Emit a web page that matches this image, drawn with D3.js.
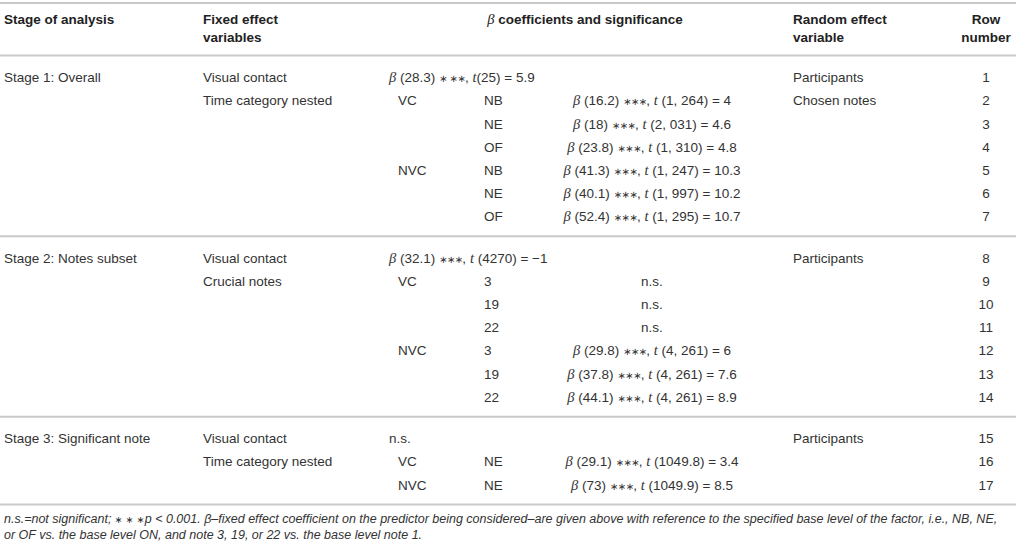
<!DOCTYPE html>
<html><head><meta charset="utf-8">
<script src="https://cdn.jsdelivr.net/npm/d3@7"></script>
<style>
html,body{margin:0;padding:0;background:#fff;}
svg{display:block;}
</style></head>
<body>
<svg id="chart" width="1016" height="545"></svg>
<script>
// ---------- data ----------
const headers = [["Stage of analysis"], ["Fixed effect", "variables"], ["β coefficients and significance"], ["Random effect", "variable"], ["Row", "number"]];
const rowSection = [0,0,0,0,0,0,0, 1,1,1,1,1,1,1, 2,2,2];
const stageLabels = ["Stage 1: Overall","","","","","","", "Stage 2: Notes subset","","","","","","", "Stage 3: Significant note","",""];
const fixedEffects = ["Visual contact","Time category nested","","","","","", "Visual contact","Crucial notes","","","","","", "Visual contact","Time category nested",""];
const contactGroups = ["","VC","","","NVC","","", "","VC","","","NVC","","", "","VC","NVC"];
const levels = ["","NB","NE","OF","NB","NE","OF", "","3","19","22","3","19","22", "","NE","NE"];
const betaValues = ["28.3","16.2","18","23.8","41.3","40.1","52.4", "32.1",null,null,null,"29.8","37.8","44.1", null,"29.1","73"];
const degreesOfFreedom = ["25","1, 264","2, 031","1, 310","1, 247","1, 997","1, 295", "4270",null,null,null,"4, 261","4, 261","4, 261", null,"1049.8","1049.9"];
const tValues = ["5.9","4","4.6","4.8","10.3","10.2","10.7", "−1",null,null,null,"6","7.6","8.9", null,"3.4","8.5"];
const mainEffectRow = [true,false,false,false,false,false,false, true,false,false,false,false,false,false, true,false,false];
const randomEffects = ["Participants","Chosen notes","","","","","", "Participants","","","","","","", "Participants","",""];
const rowNumbers = [1,2,3,4,5,6,7,8,9,10,11,12,13,14,15,16,17];
const footnoteLine1Parts = ["n.s.=not significant; ", "∗ ∗ ∗", "p < 0.001. β–fixed effect coefficient on the predictor being considered–are given above with reference to the specified base level of the factor, i.e., NB, NE,"];
const footnoteLine2 = "or OF vs. the base level ON, and note 3, 19, or 22 vs. the base level note 1.";

// ---------- layout ----------
const svg = d3.select("#chart");
const W = 1016;
const FONT = "'Liberation Sans', Arial, Helvetica, sans-serif";
const SERIF = "'Liberation Serif', 'Times New Roman', serif";
const STARF = "'DejaVu Sans', sans-serif";
const TXT = "#333";
const RULE = "#c9c9c9";
const sectionGap = 0.78;
const slot = (i) => i + rowSection[i] * sectionGap;
const y = d3.scaleLinear().domain([0, 1]).range([77.5, 77.5 + 23.2]);
const colX = { stage: 4, fixed: 203, group: 398, level: 484, coefC: 652, coefL: 389, random: 793, rownum: 986 };
const fs = 13.5;
const dy = 4.7;

// rules
const lastRowOfSection = [6, 13, 16];
const rules = [3, 55.5].concat(lastRowOfSection.map(i => y(slot(i)) + 19.5));
svg.selectAll("line.rule").data(rules).join("line")
  .attr("x1", 0).attr("x2", W).attr("y1", d => d).attr("y2", d => d)
  .attr("stroke", RULE).attr("stroke-width", 2);

// headers
const headerX = [colX.stage, colX.fixed, 585, colX.random, colX.rownum];
const headerAnchor = ["start", "start", "middle", "start", "middle"];
const hg = svg.append("g").attr("font-family", FONT).attr("font-weight", "bold").attr("font-size", fs).attr("fill", "#222");
headers.forEach((lines, c) => {
  lines.forEach((ln, k) => {
    const t = hg.append("text").attr("x", headerX[c]).attr("y", 19 + k * 18 + dy).attr("text-anchor", headerAnchor[c]);
    if (ln.startsWith("β")) {
      t.append("tspan").attr("font-family", SERIF).attr("font-style", "italic").attr("font-weight", "normal").attr("font-size", fs + 1).text("β");
      t.append("tspan").text(ln.slice(1));
    } else t.text(ln);
  });
});

// body
const bg = svg.append("g").attr("font-family", FONT).attr("font-size", fs).attr("fill", TXT);
const rowsIdx = d3.range(rowNumbers.length);
function simpleCol(arr, x, anchor) {
  bg.append("g").selectAll("text").data(rowsIdx.filter(i => arr[i] !== "" && arr[i] != null)).join("text")
    .attr("x", x).attr("y", i => y(slot(i)) + dy).attr("text-anchor", anchor).text(i => arr[i]);
}
simpleCol(stageLabels, colX.stage, "start");
simpleCol(fixedEffects, colX.fixed, "start");
simpleCol(contactGroups, colX.group, "start");
simpleCol(levels, colX.level, "start");
simpleCol(randomEffects, colX.random, "start");
simpleCol(rowNumbers.map(String), colX.rownum, "middle");

// coefficient column
rowsIdx.forEach(i => {
  const yy = y(slot(i)) + dy;
  const main = mainEffectRow[i];
  const t = bg.append("text").attr("y", yy)
    .attr("x", main ? colX.coefL : colX.coefC)
    .attr("text-anchor", main ? "start" : "middle");
  if (betaValues[i] == null) { t.text("n.s."); return; }
  const it = (s) => t.append("tspan").attr("font-family", SERIF).attr("font-style", "italic").attr("font-size", fs + 1).text(s);
  const plain = (s) => t.append("tspan").text(s);
  const stars = (s) => t.append("tspan").attr("font-family", STARF).attr("font-size", 10).attr("letter-spacing", -0.6).text(s);
  it("β");
  if (i === 0) {
    plain(" (" + betaValues[i] + ") ");
    stars("∗ ∗∗");
    plain(",  ");
    it("t");
    plain("(" + degreesOfFreedom[i] + ") = " + tValues[i]);
  } else if (main) {
    plain(" (" + betaValues[i] + ") ");
    stars("∗∗∗");
    plain(",  ");
    it("t");
    plain(" (" + degreesOfFreedom[i] + ") = " + tValues[i]);
  } else {
    plain(" (" + betaValues[i] + ") ");
    stars("∗∗∗");
    plain(", ");
    it("t");
    plain(" (" + degreesOfFreedom[i] + ") = " + tValues[i]);
  }
});

// footnote
const fg = svg.append("g").attr("font-family", FONT).attr("font-style", "italic").attr("font-size", 12.5).attr("fill", TXT);
const f1 = fg.append("text").attr("x", 4).attr("y", 522.5);
footnoteLine1Parts.forEach((p, k) => {
  const sp = f1.append("tspan").text(p);
  if (k === 1) sp.attr("font-family", STARF).attr("font-style", "normal").attr("font-size", 9.5);
});
fg.append("text").attr("x", 4).attr("y", 538.5).text(footnoteLine2);
</script>
</body></html>
